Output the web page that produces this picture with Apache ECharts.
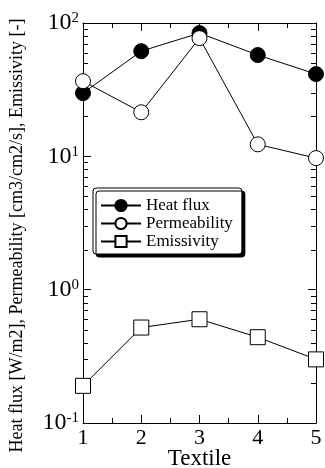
<!DOCTYPE html>
<html><head><meta charset="utf-8">
<script src="https://cdn.jsdelivr.net/npm/echarts@6/dist/echarts.min.js"></script>
<style>html,body{margin:0;padding:0;background:#fff}#c{width:325px;height:468px}</style>
</head><body><div id="c"></div>
<script>
const textiles = [1, 2, 3, 4, 5];
const heatFlux = [29.8, 61.5, 84, 57.5, 41.4];
const permeability = [36.6, 21.4, 77, 12.3, 9.7];
const emissivity = [0.19, 0.52, 0.60, 0.44, 0.30];
const xTicks = [1, 2, 3, 4, 5];
const yDecades = [0.1, 1, 10, 100];
const yExponents = ['-1', '0', '1', '2'];
const minorMultipliers = [2, 3, 4, 5, 6, 7, 8, 9];

const F = 'Liberation Serif, Times New Roman, serif';
const chart = echarts.init(document.getElementById('c'), null, {renderer: 'canvas'});
const pair = (arr) => textiles.map((x, i) => [x, arr[i]]);
const yLabelFmt = (v) => {
  const i = yDecades.findIndex(d => Math.abs(Math.log10(d) - Math.log10(v)) < 1e-6);
  return i >= 0 ? '{b|10}{s|' + yExponents[i] + '}' : '';
};
const minorValues = [];
yDecades.slice(0, -1).forEach(d => minorMultipliers.forEach(m => minorValues.push([1, d * m])));

const rich = {b: {fontSize: 24, fontFamily: F, color: '#000', lineHeight: 24},
  s: {fontSize: 15, fontFamily: F, color: '#000', verticalAlign: 'top', lineHeight: 14}};
const baseY = {
  type: 'log', logBase: 10, min: 0.1, max: 100,
  axisLine: {show: true, lineStyle: {color: '#000', width: 1}},
  axisTick: {show: true, inside: true, length: 8, lineStyle: {color: '#000'}},
  minorTick: {show: false},
  splitLine: {show: false}, minorSplitLine: {show: false}
};
const baseX = {
  type: 'value', min: 1, max: 5, interval: 1,
  axisLine: {show: true, onZero: false, lineStyle: {color: '#000', width: 1}},
  axisTick: {show: true, inside: true, length: 8, lineStyle: {color: '#000'}},
  minorTick: {show: true, splitNumber: 2, length: 5, lineStyle: {color: '#000'}},
  splitLine: {show: false}
};
chart.setOption({
  animation: false,
  backgroundColor: '#fff',
  grid: {left: 83, right: 9, top: 23, bottom: 45, containLabel: false, outerBoundsMode: 'none'},
  legend: {
    orient: 'vertical', left: 93, top: 188, itemWidth: 40, itemHeight: 14, itemGap: 1,
    padding: [9, 9, 4, 7], backgroundColor: '#fff', borderColor: '#000', borderWidth: 1, borderRadius: 3,
    shadowColor: '#000', shadowOffsetX: 3, shadowOffsetY: 3, shadowBlur: 0,
    textStyle: {fontFamily: F, fontSize: 17, color: '#000', lineHeight: 14},
    data: ['Heat flux', 'Permeability', 'Emissivity']
  },
  xAxis: [
    Object.assign({}, baseX, {position: 'bottom', name: 'Textile', nameLocation: 'middle', nameGap: 24,
      nameMoveOverlap: false,
      nameTextStyle: {fontFamily: F, fontSize: 23, color: '#000'},
      axisLabel: {fontFamily: F, fontSize: 22, color: '#000', margin: 4, formatter: (v) => xTicks.includes(v) ? String(v) : ''}}),
    Object.assign({}, baseX, {position: 'top', axisLabel: {show: false}})
  ],
  yAxis: [
    Object.assign({}, baseY, {position: 'left', name: 'Heat flux [W/m2], Permeability [cm3/cm2/s], Emissivity [-]',
      nameLocation: 'middle', nameGap: 57, nameRotate: 90, nameMoveOverlap: false,
      nameTextStyle: {fontFamily: F, fontSize: 18, color: '#000', padding: [0, 25, 0, 0]},
      axisLabel: {margin: 4, formatter: yLabelFmt, rich: rich}}),
    Object.assign({}, baseY, {position: 'right', axisLabel: {show: false}})
  ],
  series: [
    {name: 'minor', type: 'custom', data: minorValues, encode: {x: 0, y: 1}, silent: true, z: 1, clip: false,
      renderItem: (params, api) => {
        const p = api.coord([api.value(0), api.value(1)]);
        const cs = params.coordSys;
        const L = cs.x, R = cs.x + cs.width, y = Math.round(p[1]) + 0.5;
        const st = {stroke: '#000', lineWidth: 1};
        return {type: 'group', children: [
          {type: 'line', shape: {x1: L, y1: y, x2: L + 5, y2: y}, style: st},
          {type: 'line', shape: {x1: R - 5, y1: y, x2: R, y2: y}, style: st}
        ]};
      }},
    {name: 'Heat flux', type: 'line', data: pair(heatFlux), symbol: 'circle', symbolSize: 15,
      lineStyle: {color: '#000', width: 1}, itemStyle: {color: '#000', borderColor: '#000', borderWidth: 1}, z: 2},
    {name: 'Permeability', type: 'line', data: pair(permeability), symbol: 'circle', symbolSize: 15,
      lineStyle: {color: '#000', width: 1}, itemStyle: {color: '#fff', borderColor: '#000', borderWidth: 1}, z: 3},
    {name: 'Emissivity', type: 'line', data: pair(emissivity), symbol: 'rect', symbolSize: 15,
      lineStyle: {color: '#000', width: 1}, itemStyle: {color: '#fff', borderColor: '#000', borderWidth: 1}, z: 4}
  ]
});
</script></body></html>
